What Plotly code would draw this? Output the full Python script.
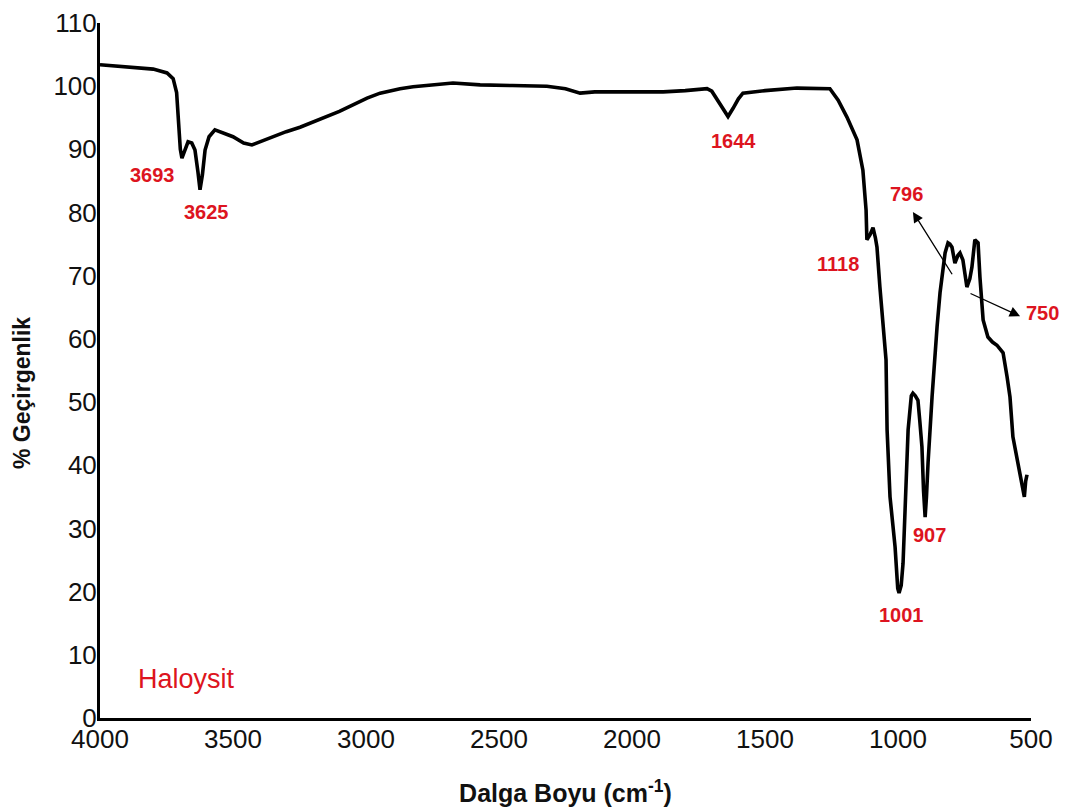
import plotly.graph_objects as go

# FTIR spectrum of Haloysit
wavenumber = [4000, 3900, 3800, 3748, 3725, 3712, 3705, 3698, 3692, 3684, 3669, 3655,
              3643, 3632, 3624, 3615, 3605, 3590, 3568, 3500, 3460, 3429, 3400, 3300,
              3248, 3100, 2996, 2947, 2872, 2823, 2673, 2571, 2450, 2320, 2250, 2195,
              2140, 2071, 1960, 1883, 1800, 1718, 1700, 1670, 1639, 1620, 1600, 1583,
              1500, 1380, 1300, 1256, 1225, 1192, 1154, 1132, 1120, 1117, 1105, 1094,
              1085, 1079, 1068, 1057, 1045, 1041, 1030, 1011, 1001, 996, 988, 981,
              970, 962, 950, 944, 935, 925, 918, 910, 904, 898, 893, 887,
              872, 861, 853, 842, 823, 812, 805, 797, 786, 775, 767, 756,
              741, 730, 722, 711, 699, 692, 680, 662, 645, 628, 605, 590,
              579, 568, 549, 530, 525, 520, 515]
transmittance = [103.4, 103.0, 102.7, 102.1, 101.2, 99.0, 95.0, 90.0, 88.6, 89.5, 91.2, 91.0,
                 89.9, 86.5, 83.6, 86.0, 89.9, 92.0, 93.1, 92.0, 91.0, 90.7, 91.2, 92.8,
                 93.5, 96.0, 98.1, 98.9, 99.6, 99.9, 100.5, 100.2, 100.1, 100.0, 99.6, 98.9,
                 99.1, 99.1, 99.0, 99.1, 99.3, 99.6, 99.2, 97.3, 95.2, 96.5, 98.0, 98.9,
                 99.3, 99.7, 99.7, 99.6, 97.8, 95.1, 91.5, 86.7, 80.4, 75.7, 76.5, 77.6,
                 76.0, 74.5, 68.2, 61.9, 56.7, 45.6, 35.0, 27.1, 20.5, 19.8, 21.0, 24.5,
                 35.0, 45.6, 51.0, 51.4, 51.0, 50.3, 47.0, 42.9, 36.0, 31.8, 35.0, 40.4,
                 50.8, 58.5, 62.0, 67.3, 73.6, 75.2, 75.0, 74.5, 72.0, 73.2, 73.6, 72.5,
                 68.2, 69.5, 71.4, 75.7, 75.2, 69.8, 63.0, 60.3, 59.5, 59.0, 57.8, 54.0,
                 50.8, 44.5, 40.4, 35.6, 35.0, 37.5, 38.5]

x_ticks = [4000, 3500, 3000, 2500, 2000, 1500, 1000, 500]
y_ticks = [0, 10, 20, 30, 40, 50, 60, 70, 80, 90, 100, 110]

peak_labels = ["3693", "3625", "1644", "1118", "796", "750", "907", "1001"]
sample_name = "Haloysit"
x_title = "Dalga Boyu (cm<sup>-1</sup>)"
y_title = "% Geçirgenlik"

RED = "#dd1420"
INK = "#111111"
FONT = "Liberation Sans, Arial, sans-serif"

fig = go.Figure()
fig.add_trace(go.Scatter(x=wavenumber, y=transmittance, mode="lines",
                         line=dict(color="black", width=3.6), showlegend=False))

# label positions (data coordinates)
label_pos = {
    "3693": (3801, 85.9), "3625": (3598, 80.1), "1644": (1620, 91.3),
    "1118": (1226, 71.9), "796": (967, 82.9),
    "907": (880, 29.0), "1001": (985, 16.3),
}
for lab in peak_labels:
    if lab in label_pos:
        px, py = label_pos[lab]
        fig.add_annotation(x=px, y=py, xref="x", yref="y", text="<b>%s</b>" % lab,
                           showarrow=False, xanchor="center", yanchor="middle",
                           font=dict(family=FONT, size=20, color=RED))
    else:
        # lies just right of the plotting area
        fig.add_annotation(x=1.0125, y=64.1, xref="paper", yref="y", text="<b>%s</b>" % lab,
                           showarrow=False, xanchor="center", yanchor="middle",
                           font=dict(family=FONT, size=20, color=RED))

fig.add_annotation(x=3673, y=6.2, xref="x", yref="y", text=sample_name, showarrow=False,
                   xanchor="center", yanchor="middle",
                   font=dict(family=FONT, size=27, color=RED))

# arrows
fig.add_annotation(x=944, y=80.1, ax=793, ay=70.0, xref="x", yref="y", axref="x", ayref="y",
                   text="", showarrow=True, arrowhead=2, arrowsize=1.6, arrowwidth=1.3,
                   arrowcolor="black")
fig.add_annotation(x=541, y=63.6, ax=733, ay=67.3, xref="x", yref="y", axref="x", ayref="y",
                   text="", showarrow=True, arrowhead=2, arrowsize=1.6, arrowwidth=1.3,
                   arrowcolor="black")

# y-axis title (placed as in the reference, slightly below centre)
fig.add_annotation(x=-0.0838, y=0.4676, xref="paper", yref="paper", text="<b>%s</b>" % y_title,
                   textangle=-90, showarrow=False, xanchor="center", yanchor="middle",
                   font=dict(family=FONT, size=23, color=INK))

fig.update_layout(
    width=1067, height=809,
    margin=dict(l=100, r=36, t=23, b=91, autoexpand=False),
    paper_bgcolor="white", plot_bgcolor="white",
    font=dict(family=FONT, color=INK),
)
fig.update_xaxes(
    range=[4000, 500], tickvals=x_ticks, ticks="", showgrid=False, zeroline=False,
    showline=True, linecolor="black", linewidth=3, mirror=False,
    tickfont=dict(family=FONT, size=26, color=INK), ticklabelstandoff=-4,
    title=dict(text="<b>%s</b>" % x_title,
               font=dict(family=FONT, size=25, color=INK), standoff=32),
    automargin=False,
)
fig.update_yaxes(
    range=[0, 110], tickvals=y_ticks, ticks="", showgrid=False, zeroline=False,
    showline=True, linecolor="black", linewidth=3, mirror=False,
    tickfont=dict(family=FONT, size=26, color=INK), ticklabelstandoff=-5,
    automargin=False,
)

fig.write_html("out.html")
